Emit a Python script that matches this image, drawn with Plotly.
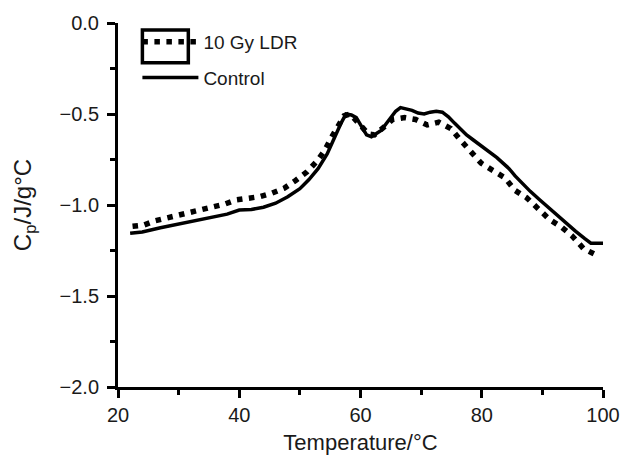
import plotly.graph_objects as go

# Temperature (°C) and Cp (J/g°C)
ctrl_T = [22, 24, 27, 30, 33, 36, 38, 40, 42, 44, 46, 48, 50, 51.5, 53, 54.5, 55.7, 56.8, 57.6, 58.5,
          59.3, 60.2, 61.0, 61.8, 62.6, 63.4, 64.2, 65.0, 65.8, 66.6, 67.5, 68.5, 69.5, 70.5, 71.5,
          72.5, 73.5, 74.5, 75.5, 76.5, 77.5, 78.5, 79.5, 80.5, 81.5, 82.5, 83.5, 84.5, 85.5, 86.5,
          88, 89.5, 91, 92.5, 94, 95.5, 97, 98, 99, 100]
ctrl_Cp = [-1.155, -1.148, -1.125, -1.105, -1.085, -1.066, -1.05, -1.028, -1.025, -1.012, -0.99,
           -0.955, -0.91, -0.86, -0.80, -0.72, -0.63, -0.55, -0.50, -0.505, -0.52, -0.575, -0.615,
           -0.625, -0.61, -0.59, -0.555, -0.52, -0.485, -0.465, -0.47, -0.48, -0.495, -0.50, -0.49,
           -0.485, -0.49, -0.515, -0.55, -0.585, -0.615, -0.64, -0.665, -0.69, -0.71, -0.74, -0.77,
           -0.80, -0.84, -0.875, -0.925, -0.97, -1.015, -1.055, -1.10, -1.145, -1.185, -1.21, -1.21,
           -1.21]

ldr_T = [22.4, 24.3, 26.2, 28.1, 30, 31.9, 33.7, 35.8, 37.7, 39.5, 41.5, 43.4, 45.3, 47.4, 49.3,
         51.2, 52.8, 54.1, 55.2, 56.2, 57.3, 58.3, 59.2, 60.2, 61.3, 62.3, 63.3, 64.3, 65.3, 67.3,
         69.1, 71, 72.9, 74.9, 76.4, 78, 79.9, 81.8, 83.8, 85.5, 87.4, 89.3, 91.2, 93.1, 94.9, 96.8,
         98.6]
ldr_Cp = [-1.117, -1.11, -1.086, -1.072, -1.053, -1.04, -1.026, -1.012, -0.994, -0.972, -0.966,
          -0.954, -0.936, -0.908, -0.865, -0.817, -0.76, -0.70, -0.63, -0.57, -0.51, -0.50, -0.53,
          -0.57, -0.61, -0.615, -0.59, -0.56, -0.53, -0.52, -0.53, -0.56, -0.545, -0.58, -0.64,
          -0.70, -0.77, -0.81, -0.85, -0.92, -0.96, -1.02, -1.08, -1.12, -1.17, -1.24, -1.27]

x_ticks = [20, 40, 60, 80, 100]
y_ticks = [0.0, -0.5, -1.0, -1.5, -2.0]
y_ticklabels = ["0.0", "\u22120.5", "\u22121.0", "\u22121.5", "\u22122.0"]

FONT = "Liberation Sans, Arial, sans-serif"
TXT = "#1a1a1a"

fig = go.Figure()
fig.add_trace(go.Scatter(
    x=ldr_T, y=ldr_Cp, mode="lines", name="10 Gy LDR", legendgroup="a",
    line=dict(color="black", width=5.5, dash="5.5px,6.5px"),
))
fig.add_trace(go.Scatter(
    x=ctrl_T, y=ctrl_Cp, mode="lines", name="Control", legendgroup="b",
    line=dict(color="black", width=3.5),
))

axis_common = dict(
    showgrid=False, zeroline=False, showline=True, linecolor="black", linewidth=3,
    ticks="outside", ticklen=8, tickwidth=2.5, tickcolor="black",
    tickfont=dict(family=FONT, size=20, color=TXT),
)

fig.update_xaxes(
    range=[20, 100], tickvals=x_ticks, **axis_common,
    minor=dict(dtick=10, tick0=20, ticks="outside", ticklen=5, tickwidth=2.5, tickcolor="black"),
    title=dict(text="Temperature/°C", font=dict(family=FONT, size=22, color=TXT), standoff=10),
)
fig.update_yaxes(
    range=[-2, 0], tickvals=y_ticks, ticktext=y_ticklabels, **axis_common,
    ticklabelstandoff=4,
    minor=dict(dtick=0.25, tick0=0, ticks="outside", ticklen=5, tickwidth=2.5, tickcolor="black"),
    title=dict(text="C<sub>p</sub>/J/g°C", font=dict(family=FONT, size=24, color=TXT),
               standoff=22),
)

# box drawn around the dotted legend sample, as in the reference
fig.add_shape(type="rect", xref="paper", yref="paper",
              x0=0.0503, x1=0.145, y0=0.891, y1=0.981,
              line=dict(color="black", width=3.5))

fig.update_layout(
    width=632, height=465,
    margin=dict(l=118, r=17, t=20, b=78),
    paper_bgcolor="white", plot_bgcolor="white",
    showlegend=True,
    legend=dict(x=0.04, y=1.0, xanchor="left", yanchor="top",
                bgcolor="rgba(0,0,0,0)", font=dict(family=FONT, size=19, color=TXT),
                itemwidth=56, tracegroupgap=8, traceorder="grouped"),
)

fig.write_html("out.html")
